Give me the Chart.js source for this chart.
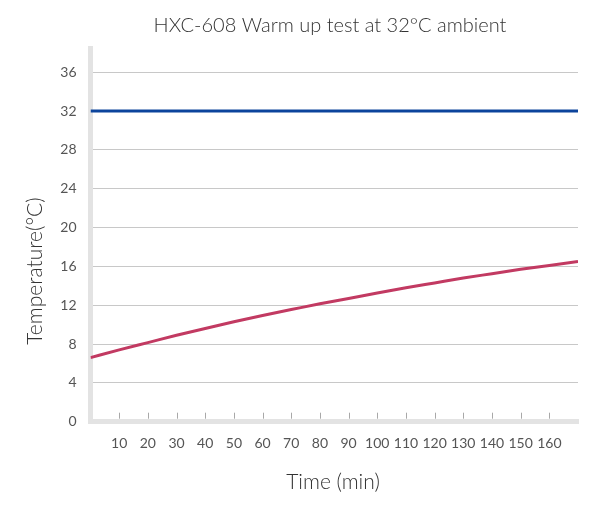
<!DOCTYPE html>
<html>
<head>
<meta charset="utf-8">
<script src="https://cdn.jsdelivr.net/npm/chart.js@4/dist/chart.umd.min.js"></script>
<style>
  html, body { margin: 0; padding: 0; background: #fff; }
</style>
</head>
<body>
<canvas id="myChart" width="594" height="508"></canvas>
<script>
// tick labels
var timeTicks = [10, 20, 30, 40, 50, 60, 70, 80, 90, 100, 110, 120, 130, 140, 150, 160];
var tempTicks = [0, 4, 8, 12, 16, 20, 24, 28, 32, 36];

// series (time in min, temperature in °C)
var minutes = [0, 10, 20, 30, 40, 50, 60, 70, 80, 90, 100, 110, 120, 130, 140, 150, 160, 170];
var ambientTemp = [32, 32, 32, 32, 32, 32, 32, 32, 32, 32, 32, 32, 32, 32, 32, 32, 32, 32];
var deviceTemp = [6.6, 7.4, 8.15, 8.9, 9.6, 10.3, 10.95, 11.55, 12.15, 12.7, 13.25, 13.8, 14.3, 14.8, 15.25, 15.7, 16.1, 16.5];

var fontFamily = 'Lato, "Open Sans", sans-serif';

// chart title and axis titles, drawn by hand so they sit where the original has them
var titlesPlugin = {
    id: 'titles',
    afterDraw: function (chart) {
        var ctx = chart.ctx;
        ctx.save();
        ctx.fillStyle = '#333';
        ctx.textAlign = 'center';
        ctx.textBaseline = 'middle';
        ctx.font = '300 20px ' + fontFamily;
        ctx.fillText('HXC-608 Warm up test at 32°C ambient', 330, 26);
        ctx.font = '300 21px ' + fontFamily;
        ctx.fillText('Time (min)', 333, 482);
        ctx.translate(35, 271);
        ctx.rotate(-Math.PI / 2);
        ctx.fillText('Temperature(°C)', 0, 0);
        ctx.restore();
    }
};

// small tick marks standing on the x axis, inside the plot
var innerTicksPlugin = {
    id: 'innerTicks',
    afterDraw: function (chart) {
        var ctx = chart.ctx;
        var x = chart.scales.x;
        var bottom = chart.chartArea.bottom;
        ctx.save();
        ctx.strokeStyle = '#a8a8a8';
        ctx.lineWidth = 1;
        timeTicks.forEach(function (t) {
            var px = Math.round(x.getPixelForValue(t)) + 0.5;
            ctx.beginPath();
            ctx.moveTo(px, bottom - 9);
            ctx.lineTo(px, bottom - 3);
            ctx.stroke();
        });
        ctx.restore();
    }
};

var ctx = document.getElementById('myChart').getContext('2d');

window.myChart = new Chart(ctx, {
    type: 'line',
    data: {
        datasets: [{
            label: 'Ambient',
            data: minutes.map(function (m, i) { return { x: m, y: ambientTemp[i] }; }),
            borderColor: '#0c449c',
            borderWidth: 3,
            pointRadius: 0,
            tension: 0
        }, {
            label: 'HXC-608',
            data: minutes.map(function (m, i) { return { x: m, y: deviceTemp[i] }; }),
            borderColor: '#c23a62',
            borderWidth: 3,
            pointRadius: 0,
            cubicInterpolationMode: 'monotone'
        }]
    },
    options: {
        responsive: false,
        animation: false,
        devicePixelRatio: 1,
        layout: {
            padding: { top: 48, right: 16, left: 0, bottom: 0 }
        },
        plugins: {
            legend: { display: false },
            tooltip: { enabled: false }
        },
        scales: {
            x: {
                type: 'linear',
                min: 0,
                max: 170,
                afterBuildTicks: function (scale) {
                    scale.ticks = timeTicks.map(function (v) { return { value: v }; });
                },
                afterFit: function (scale) { scale.height = 86.3; },
                grid: { drawOnChartArea: false, drawTicks: false },
                border: { display: true, width: 5, color: '#e3e3e3' },
                ticks: {
                    padding: 13,
                    maxRotation: 0,
                    autoSkip: false,
                    color: '#555',
                    font: { family: 'Lato', size: 14 }
                }
            },
            y: {
                min: 0,
                max: 38.5,
                afterBuildTicks: function (scale) {
                    scale.ticks = tempTicks.map(function (v) { return { value: v }; });
                },
                afterFit: function (scale) { scale.width = 90.5; },
                grid: { color: '#c8c8c8', lineWidth: 1, drawTicks: false },
                border: { display: true, width: 5, color: '#e3e3e3' },
                ticks: {
                    padding: 14,
                    color: '#555',
                    font: { family: 'Lato', size: 14 }
                }
            }
        }
    },
    plugins: [titlesPlugin, innerTicksPlugin]
});
</script>
</body>
</html>
